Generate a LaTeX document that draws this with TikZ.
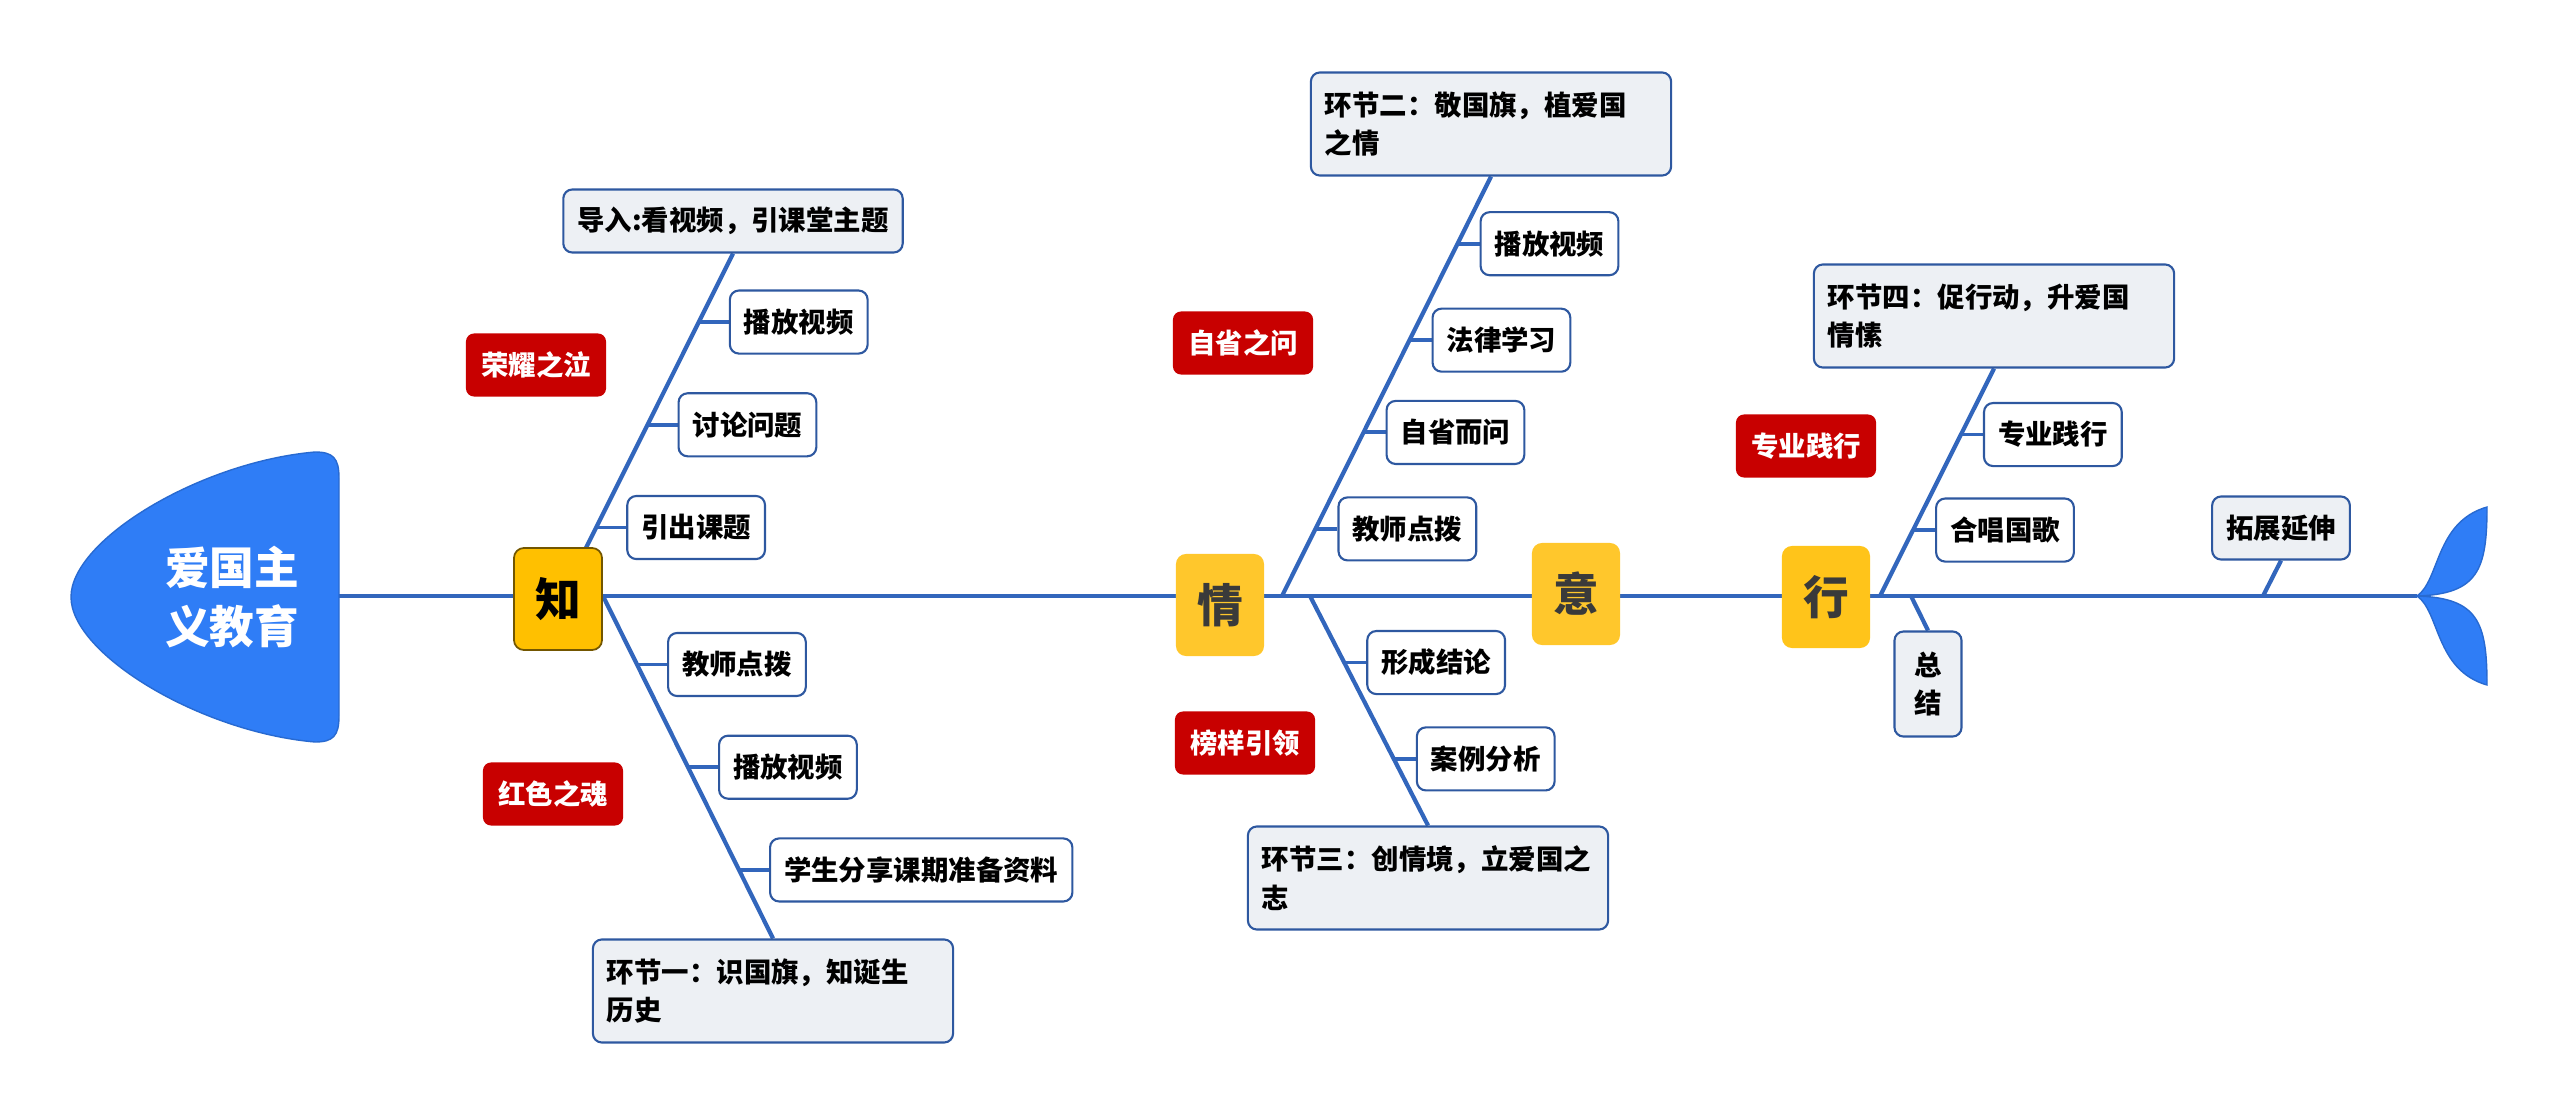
\documentclass[tikz,border=0pt]{standalone}
\usepackage{fontspec}
\setmainfont{Noto Sans CJK SC}
\usepackage{tikz}
\usetikzlibrary{positioning,calc,backgrounds}
\definecolor{lineblue}{RGB}{50,102,188}
\definecolor{edgeblue}{RGB}{46,88,160}
\definecolor{headblue}{RGB}{47,125,246}
\definecolor{stagefill}{RGB}{237,240,244}
\definecolor{tagred}{RGB}{200,0,0}
\definecolor{zhiyel}{RGB}{255,192,0}
\definecolor{keyyel}{RGB}{255,199,44}
\definecolor{keytext}{RGB}{58,58,58}
\tikzset{
  spine/.style={draw=lineblue, line width=1.3pt},
  bone/.style={draw=lineblue, line width=1.2pt},
  twig/.style={draw=lineblue, line width=1.1pt},
  fishpart/.style={fill=headblue, draw=headblue!85!black, line width=0.4pt},
  leaf/.style={draw=edgeblue, fill=white, rounded corners=0.9mm, line width=0.6pt, inner xsep=1.4mm, minimum height=6.3mm, font=\fontsize{7.8}{11}\selectfont\bfseries},
  branch/.style={leaf, fill=stagefill},
  stage/.style={branch, align=left, text width=33.2mm, minimum height=10.3mm},
  redtag/.style={fill=tagred, text=white, rounded corners=0.8mm, minimum width=14mm, minimum height=6.3mm, font=\fontsize{7.8}{11}\selectfont\bfseries},
  pillar/.style={fill=keyyel, text=keytext, rounded corners=1mm, minimum width=8.8mm, minimum height=10.2mm, font=\fontsize{13}{15}\selectfont\bfseries},
}
\begin{document}
\begin{tikzpicture}[x=0.01cm, y=-0.01cm]
  \useasboundingbox (0,0) rectangle (2560,1115);

  % head and tail of the fish
  \path[fishpart] (339,478) .. controls (339,458) and (333,452) .. (315,452) .. controls (200,462) and (71,540) .. (71,597) .. controls (71,654) and (200,732) .. (315,742) .. controls (333,742) and (339,736) .. (339,716) -- cycle;
  \node[text=white, align=center, font=\fontsize{12.7}{17}\selectfont\bfseries] (topic) at (232,597) {爱国主\\义教育};
  \coordinate (head) at (339,596);
  \coordinate (tail) at (2417,596);
  \path[fishpart] (tail) .. controls (2440,580) and (2435,522) .. (2487,507) .. controls (2487,570) and (2478,594) .. (tail) -- cycle;
  \path[fishpart] (tail) .. controls (2440,612) and (2435,670) .. (2487,685) .. controls (2487,622) and (2478,598) .. (tail) -- cycle;

  % main stations on the spine
  \node[pillar, fill=zhiyel, text=black, draw=zhiyel!45!black, line width=0.5pt] (zhi) at (558,599) {知};
  \node[pillar] (qing) at (1220,605) {情};
  \node[pillar] (yi) at (1576,594) {意};
  \node[pillar, fill=keyyel!60!zhiyel] (xing) at (1826,597) {行};

  % stage boxes at the bone ends
  \node[branch] (daoru) at (733,221) {导入:看视频，引课堂主题};
  \node[stage] (s1) at (773,991) {环节一：识国旗，知诞生\\历史};
  \node[stage] (s2) at (1491,124) {环节二：敬国旗，植爱国\\之情};
  \node[stage] (s3) at (1428,878) {环节三：创情境，立爱国之\\志};
  \node[stage] (s4) at (1994,316) {环节四：促行动，升爱国\\情愫};
  \node[branch, align=center, minimum width=6.7mm, minimum height=10.5mm, inner xsep=0pt] (zongjie) at (1928,684) {总\\结};
  \node[branch] (tuozhan) at (2281,528) {拓展延伸};

  % red tags
  \node[redtag] (t1) at (536,365) {荣耀之泣};
  \node[redtag] (t2) at (553,794) {红色之魂};
  \node[redtag] (t3) at (1243,343) {自省之问};
  \node[redtag] (t4) at (1245,743) {榜样引领};
  \node[redtag] (t5) at (1806,446) {专业践行};

  % bone roots on the spine
  \coordinate (zhi-a) at (562,596);
  \coordinate (zhi-b) at (603,596);
  \coordinate (qing-a) at (1282,596);
  \coordinate (qing-b) at (1310,596);
  \coordinate (xing-a) at (1880,596);
  \coordinate (xing-b) at (1911,596);
  \coordinate (ext) at (2263,596);

  % 知
  \coordinate (za1) at ($(zhi-a)!0.2!(daoru.south)$);
  \coordinate (za2) at ($(zhi-a)!0.5!(daoru.south)$);
  \coordinate (za3) at ($(zhi-a)!0.8!(daoru.south)$);
  \node[leaf, right=3mm of za1] (za1l) {引出课题};
  \node[leaf, right=3mm of za2] (za2l) {讨论问题};
  \node[leaf, right=3mm of za3] (za3l) {播放视频};
  \coordinate (zb1) at ($(zhi-b)!0.2!(s1.north)$);
  \coordinate (zb2) at ($(zhi-b)!0.5!(s1.north)$);
  \coordinate (zb3) at ($(zhi-b)!0.8!(s1.north)$);
  \node[leaf, right=3mm of zb1] (zb1l) {教师点拨};
  \node[leaf, right=3mm of zb2] (zb2l) {播放视频};
  \node[leaf, right=3mm of zb3] (zb3l) {学生分享课期准备资料};

  % 情
  \coordinate (qa1) at ($(qing-a)!0.16!(s2.south)$);
  \coordinate (qa2) at ($(qing-a)!0.39!(s2.south)$);
  \coordinate (qa3) at ($(qing-a)!0.61!(s2.south)$);
  \coordinate (qa4) at ($(qing-a)!0.84!(s2.south)$);
  \node[leaf, right=2.2mm of qa1] (qa1l) {教师点拨};
  \node[leaf, right=2.2mm of qa2] (qa2l) {自省而问};
  \node[leaf, right=2.2mm of qa3] (qa3l) {法律学习};
  \node[leaf, right=2.2mm of qa4] (qa4l) {播放视频};
  \coordinate (qb1) at ($(qing-b)!0.29!(s3.north)$);
  \coordinate (qb2) at ($(qing-b)!0.71!(s3.north)$);
  \node[leaf, right=2.2mm of qb1] (qb1l) {形成结论};
  \node[leaf, right=2.2mm of qb2] (qb2l) {案例分析};

  % 行
  \coordinate (xa1) at ($(xing-a)!0.29!(s4.south)$);
  \coordinate (xa2) at ($(xing-a)!0.71!(s4.south)$);
  \node[leaf, right=2.2mm of xa1] (xa1l) {合唱国歌};
  \node[leaf, right=2.2mm of xa2] (xa2l) {专业践行};

  \begin{scope}[on background layer]
    \draw[spine] (head) -- (tail);
    \draw[bone] (zhi-a) -- (daoru.south);
    \draw[bone] (zhi-b) -- (s1.north);
    \draw[bone] (qing-a) -- (s2.south);
    \draw[bone] (qing-b) -- (s3.north);
    \draw[bone] (xing-a) -- (s4.south);
    \draw[bone] (xing-b) -- (zongjie.north);
    \draw[bone] (ext) -- (tuozhan.south);
    \draw[twig] (za1) -- (za1l);
    \draw[twig] (za2) -- (za2l);
    \draw[twig] (za3) -- (za3l);
    \draw[twig] (zb1) -- (zb1l);
    \draw[twig] (zb2) -- (zb2l);
    \draw[twig] (zb3) -- (zb3l);
    \draw[twig] (qa1) -- (qa1l);
    \draw[twig] (qa2) -- (qa2l);
    \draw[twig] (qa3) -- (qa3l);
    \draw[twig] (qa4) -- (qa4l);
    \draw[twig] (qb1) -- (qb1l);
    \draw[twig] (qb2) -- (qb2l);
    \draw[twig] (xa1) -- (xa1l);
    \draw[twig] (xa2) -- (xa2l);
  \end{scope}
\end{tikzpicture}
\end{document}
